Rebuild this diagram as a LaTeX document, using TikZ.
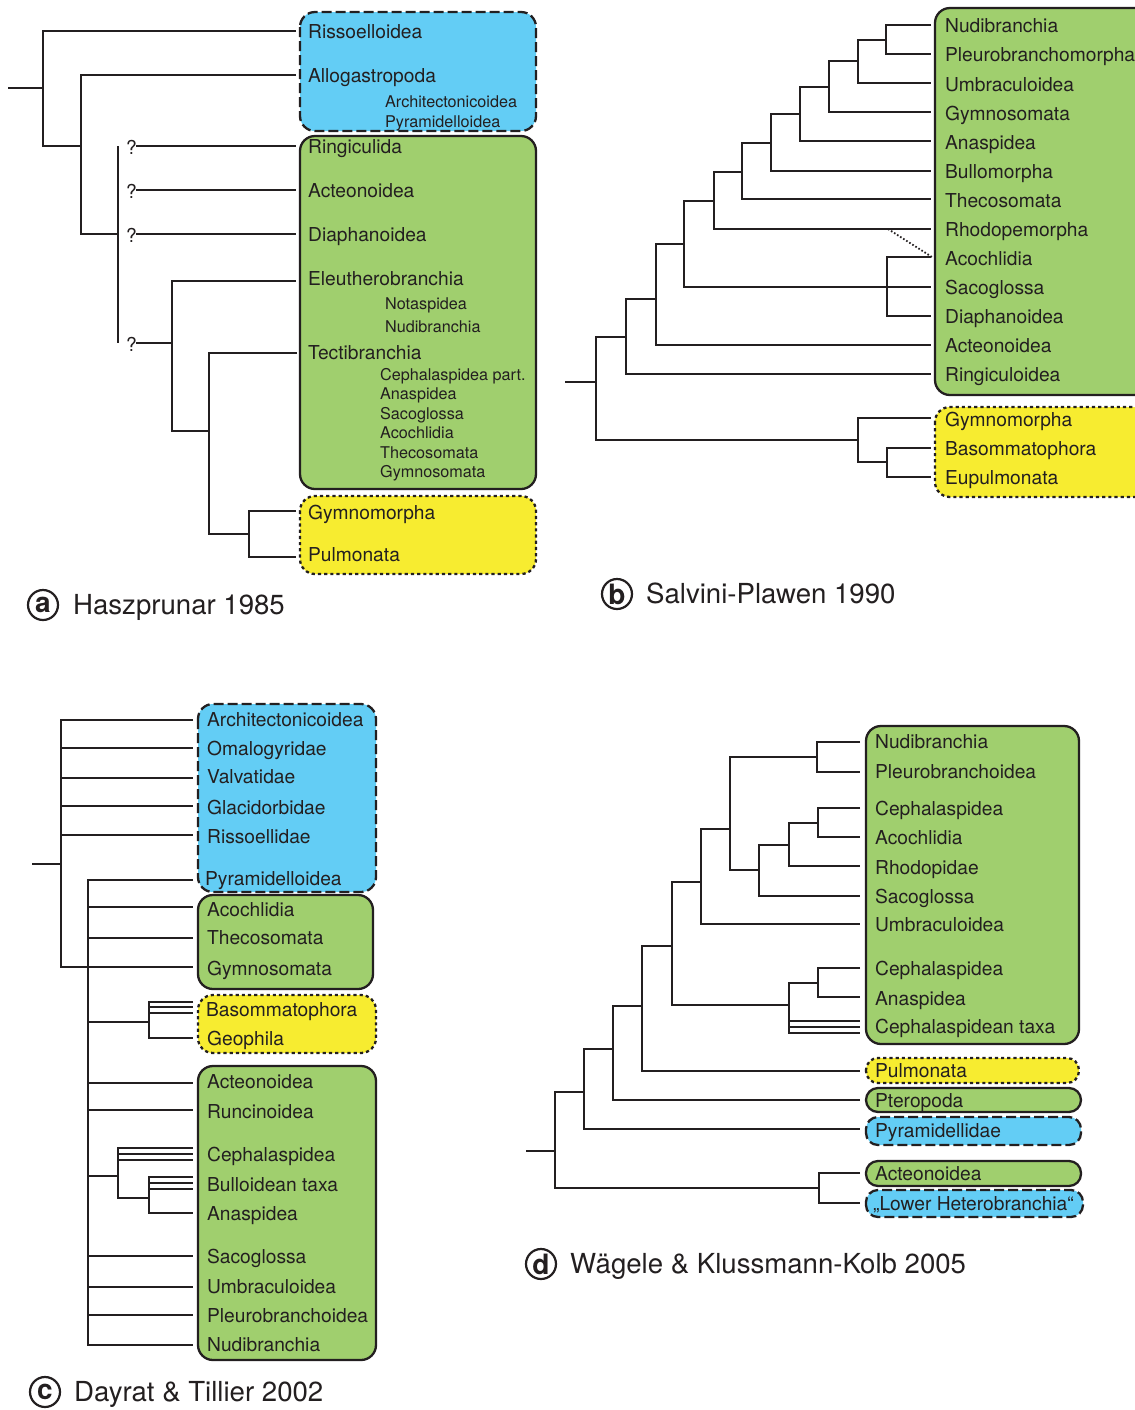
\documentclass[tikz,border=0pt]{standalone}
\usepackage{fontspec}
\setmainfont{TeX Gyre Heros}
\definecolor{cblue}{RGB}{99,205,245}
\definecolor{cgreen}{RGB}{160,207,110}
\definecolor{cyellow}{RGB}{247,236,48}
\definecolor{ink}{RGB}{35,31,32}
\begin{document}
\begin{tikzpicture}[x=0.5pt,y=-0.5pt,line join=miter,line width=1.15pt,color=ink,
	tx/.style={anchor=west,inner sep=0pt,yshift=-0.5pt,font=\fontsize{9.6}{11}\selectfont,text height=6.9pt,text depth=0pt},
	sm/.style={tx,font=\fontsize{8.1}{10}\selectfont,text height=5.8pt},
	blubox/.style={draw=ink,fill=cblue,line width=1.15pt,rounded corners=7.5pt,dash pattern=on 5pt off 2pt},
	grnbox/.style={draw=ink,fill=cgreen,line width=1.15pt,rounded corners=7.5pt},
	yelbox/.style={draw=ink,fill=cyellow,line width=1.15pt,rounded corners=7.5pt,dash pattern=on 1.6pt off 1.5pt},
	pill/.style={rounded corners=6pt},
	tag/.style={circle,draw=ink,line width=1.1pt,minimum size=15pt,inner sep=0pt,font=\fontsize{14}{15}\selectfont\bfseries},
	ttl/.style={anchor=west,inner sep=0pt,font=\fontsize{13.8}{16}\selectfont,text height=9.9pt,text depth=0pt}]
	\useasboundingbox (0,0) rectangle (1135,1410);
	
	%Panel a
	\draw[blubox] (300,12) rectangle (536,131);
	\draw[grnbox] (300,136) rectangle (536,489);
	\draw[yelbox] (300,496) rectangle (536,574);
	\draw (8,88)--(43,88);
	\draw (296,31)-|(43,146)--(81,146);
	\draw (296,75)-|(81,234)--(118,234);
	\draw (118,146)--(118,343);
	\draw (136,146)--(296,146) (136,190)--(296,190) (136,234)--(296,234) (136,343)--(172,343);
	\draw (296,281)-|(172,431)--(209,431);
	\draw (297,353)-|(209,534)--(249,534);
	\draw (296,511)-|(249,557)--(296,557);
	\foreach \y in {146,190,234,343} \node[tx] (q\y) at (125,\y+1) {?};
	\foreach \y/\t in {31/Rissoelloidea,75/Allogastropoda,146/Ringiculida,190/Acteonoidea,234/Diaphanoidea,278/Eleutherobranchia,352/Tectibranchia,512/Gymnomorpha,554/Pulmonata}
		\node[tx] (a\y) at (307,\y) {\t};
	\foreach \y/\t in {101/Architectonicoidea,121/Pyramidelloidea,303/Notaspidea,326/Nudibranchia}
		\node[sm] (a\y) at (384,\y) {\t};
	\foreach \y/\t in {374/Cephalaspidea part.,393/Anaspidea,413/Sacoglossa,432/Acochlidia,452/Thecosomata,471/Gymnosomata}
		\node[sm] (a\y) at (379,\y) {\t};
	\node[tag] (ta) at (43,605) {a};
	\node[ttl] (ha) at (72,605) {Haszprunar 1985};
	
	%Panel b
	\draw[grnbox] (935,8) rectangle (1150,395);
	\draw[yelbox] (935,407) rectangle (1150,497);
	\draw (931,25)-|(886,54)--(931,54);
	\draw (886,40)-|(858,83)--(931,83);
	\draw (858,61)-|(829,112)--(931,112);
	\draw (829,87)-|(800,141)--(931,141);
	\draw (800,114)-|(771,171)--(931,171);
	\draw (771,143)-|(742,199)--(931,199);
	\draw (742,172)-|(714,229)--(931,229);
	\draw (714,201)-|(684,287)--(931,287);
	\draw (931,257)-|(887,316)--(931,316);
	\draw (684,244)-|(656,345)--(931,345);
	\draw (656,299)-|(626,374)--(931,374);
	\draw (626,337)-|(596,440)--(858,440);
	\draw (565,382)--(596,382);
	\draw (931,418)-|(858,462)--(887,462);
	\draw (931,448)-|(887,477)--(931,477);
	\draw[line width=0.9pt,dash pattern=on 0.8pt off 1pt] (888,229)--(932,257);
	\foreach \t [count=\i] in {Nudibranchia,Pleurobranchomorpha,Umbraculoidea,Gymnosomata,Anaspidea,Bullomorpha,Thecosomata,Rhodopemorpha,Acochlidia,Sacoglossa,Diaphanoidea,Acteonoidea,Ringiculoidea}
		\node[tx] (b\i) at (944,{25+29.08*(\i-1)}) {\t};
	\foreach \y/\t in {419/Gymnomorpha,448/Basommatophora,477/Eupulmonata}
		\node[tx] (b\y) at (944,\y) {\t};
	\node[tag] (tb) at (617,594) {b};
	\node[ttl] (hb) at (645,594) {Salvini-Plawen 1990};
	
	%Panel c
	\draw[blubox] (198,704) rectangle (376,892);
	\draw[grnbox] (198,895) rectangle (373,989);
	\draw[yelbox] (198,995) rectangle (376,1053);
	\draw[grnbox] (198,1066) rectangle (376,1360);
	\draw (32,864)--(61,864);
	\draw (193,720)-|(61,967)--(88,967);
	\foreach \y in {748,778,806,835} \draw (61,\y)--(193,\y);
	\draw (193,880)-|(88,1345)--(193,1345);
	\foreach \y in {907,938,967,1083,1110,1256,1287,1315} \draw (88,\y)--(193,\y);
	\draw (88,1022)--(149,1022);
	\draw (193,1002)-|(149,1038)--(193,1038);
	\draw (149,1007)--(193,1007) (149,1013)--(193,1013);
	\draw (88,1176)--(118,1176);
	\draw (193,1148)-|(118,1198)--(149,1198);
	\draw (118,1154)--(193,1154) (118,1160)--(193,1160);
	\draw (193,1177)-|(149,1213)--(193,1213);
	\draw (149,1183)--(193,1183) (149,1189)--(193,1189);
	\foreach \y/\t in {719/Architectonicoidea,748/Omalogyridae,776/Valvatidae,807/Glacidorbidae,836/Rissoellidae,909/Acochlidia,937/Thecosomata,968/Gymnosomata,1038/Geophila,1081/Acteonoidea,1111/Runcinoidea,1154/Cephalaspidea,1184/Bulloidean taxa,1213/Anaspidea,1256/Sacoglossa,1286/Umbraculoidea,1315/Pleurobranchoidea,1344/Nudibranchia}
		\node[tx] (c\y) at (206,\y) {\t};
	\node[tx] (c878) at (204,878) {Pyramidelloidea};
	\node[tx] (c1009) at (205,1009) {Basommatophora};
	\node[tag] (tc) at (45,1392) {c};
	\node[ttl] (hc) at (73,1392) {Dayrat \& Tillier 2002};
	
	%Panel d
	\draw[grnbox] (866,726) rectangle (1079,1044);
	\draw[yelbox,pill] (866,1058) rectangle (1079,1083);
	\draw[grnbox,pill] (866,1088) rectangle (1081,1112);
	\draw[blubox,pill] (866,1117) rectangle (1081,1145);
	\draw[grnbox,pill] (866,1161) rectangle (1081,1186);
	\draw[blubox,pill] (866,1190) rectangle (1083,1217);
	\draw (860,742)-|(817,772)--(860,772);
	\draw (817,757)-|(730,870)--(759,870);
	\draw (860,808)-|(818,837)--(860,837);
	\draw (818,823)-|(789,866)--(860,866);
	\draw (789,845)-|(759,896)--(860,896);
	\draw (730,829)-|(701,924)--(860,924);
	\draw (701,882)-|(672,1005)--(789,1005);
	\draw (818,983)-|(789,1033)--(860,1033);
	\draw (860,968)-|(818,997)--(860,997);
	\draw (789,1021)--(860,1021) (789,1027)--(860,1027);
	\draw (672,946)-|(642,1071)--(860,1071);
	\draw (642,1006)-|(613,1100)--(860,1100);
	\draw (613,1049)-|(584,1129)--(860,1129);
	\draw (584,1092)-|(555,1188)--(819,1188);
	\draw (526,1151)--(555,1151);
	\draw (860,1173)-|(819,1203)--(860,1203);
	\foreach \y/\t in {741/Nudibranchia,771/Pleurobranchoidea,808/Cephalaspidea,837/Acochlidia,867/Rhodopidae,896/Sacoglossa,924/Umbraculoidea,968/Cephalaspidea,998/Anaspidea,1026/Cephalaspidean taxa,1070/Pulmonata,1100/Pteropoda,1130/Pyramidellidae,1173/Acteonoidea}
		\node[tx] (d\y) at (874,\y) {\t};
	\node[tx] (d1203) at (872,1203) {„Lower Heterobranchia“};
	\node[tag] (td) at (541,1264) {d};
	\node[ttl] (hd) at (569,1264) {Wägele \& Klussmann-Kolb 2005};
\end{tikzpicture}
\end{document}
